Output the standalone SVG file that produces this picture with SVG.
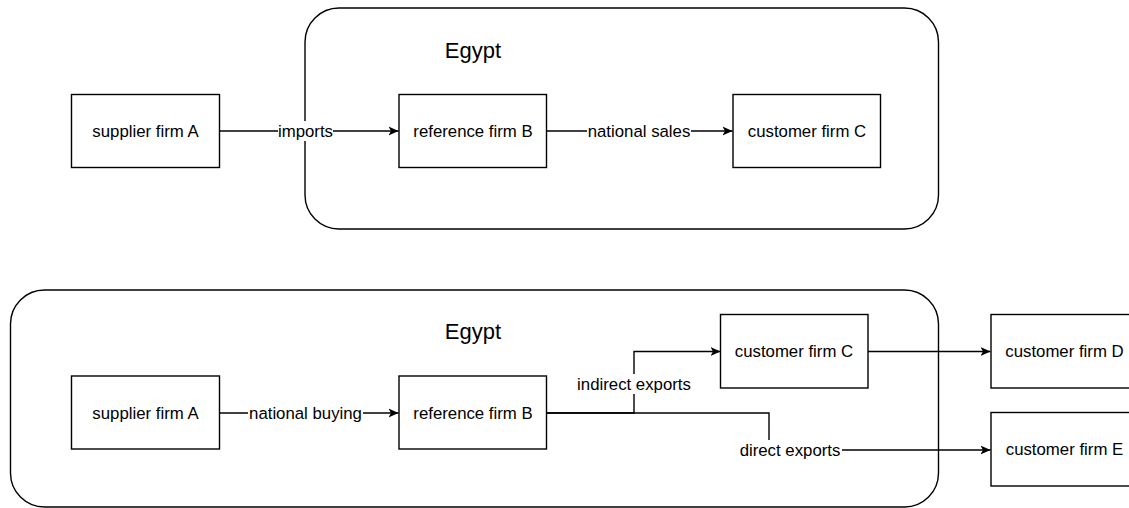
<svg xmlns="http://www.w3.org/2000/svg" width="1129" height="508" viewBox="0 0 1129 508">
<defs>
<style>
.box{fill:#fff;stroke:#000;stroke-width:1.4}
.cont{fill:#fff;stroke:#000;stroke-width:1.4}
.t{font-family:"Liberation Sans",Arial,sans-serif;font-size:16.8px;fill:#000;text-anchor:middle}
.big{font-family:"Liberation Sans",Arial,sans-serif;font-size:22px;fill:#000;text-anchor:middle}
.edge{fill:none;stroke:#000;stroke-width:1.4}
.lbl{fill:#fff}
</style>
<marker id="arr" markerWidth="12" markerHeight="10" refX="10" refY="5" orient="auto" markerUnits="userSpaceOnUse">
<path d="M0,0.5 L10,5 L0,9.5 L2.5,5 Z" fill="#000"/>
</marker>
</defs>
<g id="egypt-top">
<rect class="cont" x="305" y="8" width="633.5" height="221" rx="34" ry="34"/>
<text class="big" x="473" y="58">Egypt</text>
</g>
<g id="egypt-bottom">
<rect class="cont" x="10.5" y="290" width="928" height="217" rx="34" ry="34"/>
<text class="big" x="473" y="339">Egypt</text>
</g>
<g id="connectors">
<path class="edge" d="M219.5,131 L398.5,131" marker-end="url(#arr)"/>
<rect class="lbl" x="278" y="121" width="55" height="20"/>
<text class="t" x="305.5" y="137">imports</text>
<path class="edge" d="M546.5,131 L732.5,131" marker-end="url(#arr)"/>
<rect class="lbl" x="587" y="121" width="104" height="20"/>
<text class="t" x="639" y="137">national sales</text>
<path class="edge" d="M219.5,413 L398.5,413" marker-end="url(#arr)"/>
<rect class="lbl" x="248" y="403" width="115" height="20"/>
<text class="t" x="305.5" y="419">national buying</text>
<path class="edge" d="M546.5,413 L634,413 L634,351.5 L720.5,351.5" marker-end="url(#arr)"/>
<rect class="lbl" x="576" y="374" width="116" height="20"/>
<text class="t" x="634" y="390">indirect exports</text>
<path class="edge" d="M546.5,413 L769,413 L769,450 L990.5,450" marker-end="url(#arr)"/>
<rect class="lbl" x="738" y="440" width="104" height="20"/>
<text class="t" x="790" y="456">direct exports</text>
<path class="edge" d="M867.5,351.5 L990.5,351.5" marker-end="url(#arr)"/>
</g>
<g id="supplier-a-top">
<rect class="box" x="71.5" y="94.5" width="148" height="73"/>
<text class="t" x="145.5" y="137">supplier firm A</text>
</g>
<g id="reference-b-top">
<rect class="box" x="399" y="94.5" width="147.5" height="73"/>
<text class="t" x="473" y="137">reference firm B</text>
</g>
<g id="customer-c-top">
<rect class="box" x="733" y="94.5" width="147.5" height="73"/>
<text class="t" x="807" y="137">customer firm C</text>
</g>
<g id="supplier-a-bottom">
<rect class="box" x="71.5" y="376" width="148" height="73"/>
<text class="t" x="145.5" y="419">supplier firm A</text>
</g>
<g id="reference-b-bottom">
<rect class="box" x="399" y="376" width="147.5" height="73"/>
<text class="t" x="473" y="419">reference firm B</text>
</g>
<g id="customer-c-bottom">
<rect class="box" x="720.5" y="314.5" width="147.5" height="73.5"/>
<text class="t" x="794" y="356.5">customer firm C</text>
</g>
<g id="customer-d">
<rect class="box" x="991" y="314.5" width="147.5" height="73.5"/>
<text class="t" x="1064.5" y="356.5">customer firm D</text>
</g>
<g id="customer-e">
<rect class="box" x="991" y="412.5" width="147.5" height="73.5"/>
<text class="t" x="1064.5" y="455">customer firm E</text>
</g>
</svg>
